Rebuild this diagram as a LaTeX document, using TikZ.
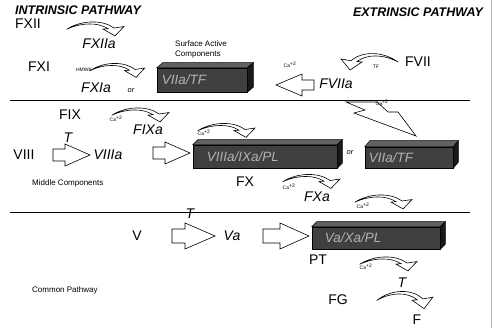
\documentclass[tikz,border=0pt]{standalone}
\usepackage{fontspec}
\setmainfont{Liberation Sans}
\usetikzlibrary{positioning}

% curved ribbon arrow: origin x, origin y, xscale, yscale
\newcommand{\curvarr}[4]{%
  \draw[carr, shift={(#1,#2)}, xscale=#3, yscale=#4]
    (0,6) .. controls (15,-5) and (36,-5) .. (47,4.7) -- (57,3) -- (48,14)
    -- (36,6) -- (41,5.5) .. controls (31,-2) and (15,-2) .. cycle;}
% block arrow: tail x, y, head base x, tip x, shaft half, head half
\newcommand{\blockarr}[6]{%
  \draw[barr] (#1,#2-#5) -- (#3,#2-#5) -- (#3,#2-#6) -- (#4,#2)
    -- (#3,#2+#6) -- (#3,#2+#5) -- (#1,#2+#5) -- cycle;}

\begin{document}
\begin{tikzpicture}[x=1pt, y=-1pt,
  hd/.style={font=\fontsize{12.5}{14}\selectfont\bfseries\itshape, inner sep=0pt},
  fac/.style={font=\fontsize{14}{16}\selectfont, inner sep=0pt},
  act/.style={font=\fontsize{14}{16}\selectfont\itshape, inner sep=0pt},
  note/.style={font=\fontsize{8}{10}\selectfont, inner sep=0pt, align=left, anchor=west},
  tiny/.style={font=\fontsize{5}{6}\selectfont, inner sep=0pt},
  orr/.style={font=\fontsize{7.5}{9}\selectfont\itshape, inner sep=0pt},
  slab/.style={fill=black!75, draw=black, line width=0.5pt, inner sep=0pt},
  slabtop/.style={fill=black!62, draw=black, line width=0.5pt},
  slabside/.style={fill=black!90, draw=black, line width=0.5pt},
  slabtext/.style={font=\fontsize{13.5}{15}\selectfont\itshape, text=black!30, inner sep=0pt},
  carr/.style={draw, fill=white, line width=0.6pt, line join=miter},
  barr/.style={draw, fill=white, line width=0.6pt},
  sep/.style={line width=1pt}
]
\useasboundingbox (0,0) rectangle (493,328);
\draw[gray!55, line width=1pt] (491,0) -- (491,328);

% headings
\node[hd] (intr) at (78,10) {INTRINSIC PATHWAY};
\node[hd] (extr) at (418,12) {EXTRINSIC PATHWAY};

% surface active components
\node[fac] (fxii) at (28,24) {FXII};
\curvarr{67}{24}{1}{0.85}
\node[act] (fxiia) at (99,44) {FXIIa};
\node[note] (surf) at (175,49) {Surface Active\\Components};
\node[fac] (fxi) at (39,67) {FXI};
\node[tiny] (hmwk) at (84,70) {HMWK};
\curvarr{90}{65.5}{0.96}{0.85}
\node[act] (fxia) at (96,88) {FXIa};
\node[orr] (or1) at (131,91) {or};
\node[slab, minimum width=90, minimum height=24] (b1) at (202,80) {};
\draw[slabtop] (b1.north west) -- ++(6,-5) -- ([shift={(6,-5)}]b1.north east) -- (b1.north east) -- cycle;
\draw[slabside] (b1.north east) -- ++(6,-5) -- ([shift={(6,-5)}]b1.south east) -- (b1.south east) -- cycle;
\node[slabtext, right=5pt of b1.west] (t1) {VIIa/TF};
\node[tiny] (ca1) at (290,65) {Ca\textsuperscript{+2}};
\node[fac] (fvii) at (418,62) {FVII};
\curvarr{398}{56}{-1}{1}
\node[tiny] (tf) at (376,67) {TF};
\blockarr{314}{85}{302}{276}{5}{11}
\node[act] (fviia) at (336,84) {FVIIa};

\draw[sep] (10,101) -- (470,101);

% middle components
\node[fac] (fix) at (70,115) {FIX};
\node[tiny] (ca2) at (116,119) {Ca\textsuperscript{+2}};
\curvarr{112}{110}{1}{0.85}
\node[act] (fixa) at (148,130) {FIXa};
\node[act] (thr1) at (68,138) {T};
\node[fac] (viii) at (24,155) {VIII};
\blockarr{53}{155}{65}{90}{6}{11}
\node[act] (viiia) at (108,155) {VIIIa};
\blockarr{153}{153}{165}{190}{6}{11}
\node[tiny] (ca3) at (204,133) {Ca\textsuperscript{+2}};
\curvarr{198}{125.5}{1}{0.85}
\node[slab, minimum width=144, minimum height=23] (b2) at (265,156.5) {};
\draw[slabtop] (b2.north west) -- ++(5,-5) -- ([shift={(5,-5)}]b2.north east) -- (b2.north east) -- cycle;
\draw[slabside] (b2.north east) -- ++(5,-5) -- ([shift={(5,-5)}]b2.south east) -- (b2.south east) -- cycle;
\node[slabtext, right=14pt of b2.west] (t2) {VIIIa/IXa/PL};
\node[orr] (or2) at (350,153) {or};
\draw[barr] (346,102) -- (365,110) -- (354,113) -- (416,136) -- (398,112) -- (388,112) -- (377,102) -- cycle;
\node[tiny] (ca4) at (382,103) {Ca\textsuperscript{+2}};
\node[slab, minimum width=88, minimum height=21] (b3) at (409,157.5) {};
\draw[slabtop] (b3.north west) -- ++(5,-6) -- ([shift={(5,-6)}]b3.north east) -- (b3.north east) -- cycle;
\draw[slabside] (b3.north east) -- ++(5,-6) -- ([shift={(5,-6)}]b3.south east) -- (b3.south east) -- cycle;
\node[slabtext, right=4pt of b3.west] (t3) {VIIa/TF};
\node[note] (mid) at (32,183) {Middle Components};
\node[fac] (fx) at (245,182) {FX};
\node[tiny] (ca5) at (289,187) {Ca\textsuperscript{+2}};
\curvarr{283}{176.5}{1}{0.85}
\node[act] (fxa) at (317,197) {FXa};
\node[tiny] (ca6) at (363,206) {Ca\textsuperscript{+2}};
\curvarr{355}{197}{1}{0.85}

\draw[sep] (10,213) -- (470,213);

% common pathway
\node[fac] (v) at (137,236) {V};
\blockarr{172}{236}{185}{215}{7}{13}
\node[act] (thr2) at (190,214) {T};
\node[act] (va) at (232,236) {Va};
\blockarr{263}{236}{280}{309}{7}{13}
\node[slab, minimum width=128, minimum height=22] (b4) at (376,238) {};
\draw[slabtop] (b4.north west) -- ++(5,-5) -- ([shift={(5,-5)}]b4.north east) -- (b4.north east) -- cycle;
\draw[slabside] (b4.north east) -- ++(5,-5) -- ([shift={(5,-5)}]b4.south east) -- (b4.south east) -- cycle;
\node[slabtext, right=13pt of b4.west] (t4) {Va/Xa/PL};
\node[fac] (pt) at (318,260) {PT};
\node[tiny] (ca7) at (366,267) {Ca\textsuperscript{+2}};
\curvarr{360}{259}{1}{0.85}
\node[act] (thr3) at (402,283) {T};
\node[note] (com) at (32,290) {Common Pathway};
\node[fac] (fg) at (338,300) {FG};
\curvarr{377}{294}{0.98}{1.05}
\node[fac] (f) at (417,320) {F};
\end{tikzpicture}
\end{document}
